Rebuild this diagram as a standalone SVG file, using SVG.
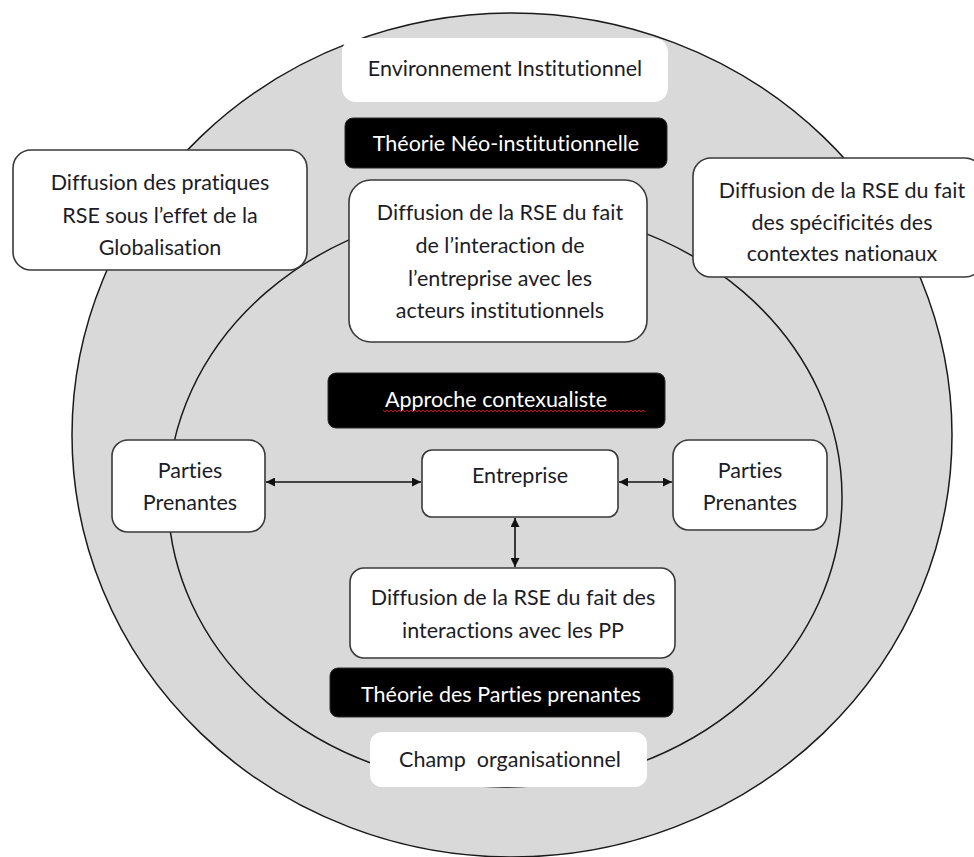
<svg xmlns="http://www.w3.org/2000/svg" width="974" height="857" viewBox="0 0 974 857">
  <defs>
    <style>
      .ring { fill: #d9d9d9; stroke: #1a1a1a; stroke-width: 1.5; }
      .box { fill: #ffffff; stroke: #3a3a3a; stroke-width: 1.6; }
      .plain { fill: #ffffff; stroke: none; }
      .dark { fill: #000000; stroke: #2a2a2a; stroke-width: 1; }
      .t { font-family: Lato, "Open Sans", "Liberation Sans", sans-serif; font-size: 21.5px; fill: #1c1c26; text-anchor: middle; dominant-baseline: central; font-variant-ligatures: none; font-feature-settings: "liga" 0, "clig" 0; }
      .w { fill: #ffffff; }
      .link { stroke: #111111; stroke-width: 1.6; fill: none; marker-start: url(#head); marker-end: url(#head); }
    </style>
    <marker id="head" viewBox="0 0 10 10" refX="10" refY="5" markerWidth="9" markerHeight="9" markerUnits="userSpaceOnUse" orient="auto-start-reverse">
      <path d="M0,0 L10,5 L0,10 z" fill="#111111"/>
    </marker>
  </defs>

  <rect width="974" height="857" fill="#ffffff"/>

  <!-- concentric fields -->
  <g id="rings">
    <ellipse class="ring" cx="512" cy="435" rx="440" ry="422"/>
    <ellipse class="ring" cx="505" cy="497" rx="337" ry="290"/>
  </g>

  <g id="environnement">
    <rect class="plain" x="342" y="38" width="326" height="64" rx="14"/>
    <text class="t" x="505" y="68">Environnement Institutionnel</text>
  </g>

  <g id="theorie-neo">
    <rect class="dark" x="345" y="118" width="322" height="50" rx="8"/>
    <text class="t w" x="506" y="143">Théorie Néo-institutionnelle</text>
  </g>

  <g id="globalisation">
    <rect class="box" x="13" y="150" width="294" height="120" rx="18"/>
    <text class="t" x="160" y="182">Diffusion des pratiques</text>
    <text class="t" x="160" y="215">RSE sous l’effet de la</text>
    <text class="t" x="160" y="247">Globalisation</text>
  </g>

  <g id="contextes-nationaux">
    <rect class="box" x="693" y="158" width="290" height="119" rx="18"/>
    <text class="t" x="842" y="190">Diffusion de la RSE du fait</text>
    <text class="t" x="842" y="222">des spécificités des</text>
    <text class="t" x="842" y="253">contextes nationaux</text>
  </g>

  <g id="acteurs-institutionnels">
    <rect class="box" x="349" y="180" width="298" height="162" rx="22"/>
    <text class="t" x="500" y="212">Diffusion de la RSE du fait</text>
    <text class="t" x="500" y="245">de l’interaction de</text>
    <text class="t" x="500" y="278">l’entreprise avec les</text>
    <text class="t" x="500" y="310">acteurs institutionnels</text>
  </g>

  <g id="approche">
    <rect class="dark" x="328" y="373" width="337" height="55" rx="8"/>
    <text class="t w" x="496" y="399">Approche contexualiste</text>
    <path d="M383,410 l2,2 l2,-2 l2,2 l2,-2 l2,2 l2,-2 l2,2 l2,-2 l2,2 l2,-2 l2,2 l2,-2 l2,2 l2,-2 l2,2 l2,-2 l2,2 l2,-2 l2,2 l2,-2 l2,2 l2,-2 l2,2 l2,-2 l2,2 l2,-2 l2,2 l2,-2 l2,2 l2,-2 l2,2 l2,-2 l2,2 l2,-2 l2,2 l2,-2 l2,2 l2,-2 l2,2 l2,-2 l2,2 l2,-2 l2,2 l2,-2 l2,2 l2,-2 l2,2 l2,-2 l2,2 l2,-2 l2,2 l2,-2 l2,2 l2,-2 l2,2 l2,-2 l2,2 l2,-2 l2,2 l2,-2 l2,2 l2,-2 l2,2 l2,-2 l2,2 l2,-2 l2,2 l2,-2 l2,2 l2,-2 l2,2 l2,-2 l2,2 l2,-2 l2,2 l2,-2 l2,2 l2,-2 l2,2 l2,-2 l2,2 l2,-2 l2,2 l2,-2 l2,2 l2,-2 l2,2 l2,-2 l2,2 l2,-2 l2,2 l2,-2 l2,2 l2,-2 l2,2 l2,-2 l2,2 l2,-2 l2,2 l2,-2 l2,2 l2,-2 l2,2 l2,-2 l2,2 l2,-2 l2,2 l2,-2 l2,2 l2,-2 l2,2 l2,-2 l2,2 l2,-2 l2,2 l2,-2 l2,2 l2,-2 l2,2 l2,-2 l2,2 l2,-2 l2,2 l2,-2 l2,2 l2,-2 l2,2 l2,-2 l2,2 l2,-2 l2,2" fill="none" stroke="#d01010" stroke-width="1"/>
  </g>

  <g id="entreprise">
    <rect class="box" x="422" y="450" width="196" height="67" rx="10"/>
    <text class="t" x="520" y="475">Entreprise</text>
  </g>

  <g id="pp-gauche">
    <rect class="box" x="112" y="440" width="153" height="92" rx="16"/>
    <text class="t" x="190" y="470">Parties</text>
    <text class="t" x="190" y="502">Prenantes</text>
  </g>

  <g id="pp-droite">
    <rect class="box" x="673" y="440" width="154" height="90" rx="16"/>
    <text class="t" x="750" y="470">Parties</text>
    <text class="t" x="750" y="502">Prenantes</text>
  </g>

  <g id="interactions-pp">
    <rect class="box" x="350" y="568" width="325" height="90" rx="14"/>
    <text class="t" x="513" y="597">Diffusion de la RSE du fait des</text>
    <text class="t" x="513" y="630">interactions avec les PP</text>
  </g>

  <g id="theorie-pp">
    <rect class="dark" x="330" y="668" width="343" height="49" rx="8"/>
    <text class="t w" x="501" y="694">Théorie des Parties prenantes</text>
  </g>

  <g id="champ">
    <rect class="plain" x="370" y="732" width="277" height="55" rx="12"/>
    <text class="t" x="510" y="759" xml:space="preserve">Champ  organisationnel</text>
  </g>

  <!-- two-way links around the firm -->
  <g id="connectors">
    <line class="link" x1="266" y1="482" x2="421" y2="482"/>
    <line class="link" x1="619" y1="482" x2="672" y2="482"/>
    <line class="link" x1="515" y1="518" x2="515" y2="567"/>
  </g>
</svg>
